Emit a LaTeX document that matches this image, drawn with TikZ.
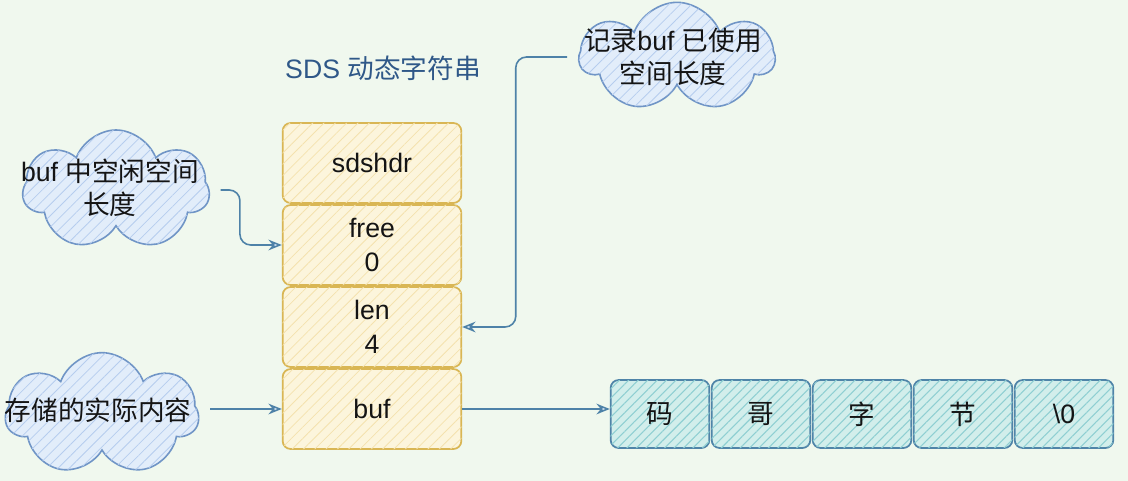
\documentclass[tikz,border=0pt]{standalone}
\usepackage{fontspec}
\setmainfont{Liberation Sans}
\newfontfamily\cjk{Noto Sans CJK SC}
\usetikzlibrary{shapes.symbols}
\usetikzlibrary{patterns.meta}
\usetikzlibrary{arrows.meta}
\usetikzlibrary{calc}
\definecolor{bggreen}{HTML}{F0F8EE}
\definecolor{fieldfill}{HTML}{FCF5DC}
\definecolor{fieldhatch}{HTML}{F4E2AE}
\definecolor{fieldline}{HTML}{D9B654}
\definecolor{charfill}{HTML}{D2EEEB}
\definecolor{charhatch}{HTML}{8FCFD2}
\definecolor{charline}{HTML}{4F84A8}
\definecolor{cloudfill}{HTML}{E2EDFA}
\definecolor{cloudhatch}{HTML}{B6CDEE}
\definecolor{cloudline}{HTML}{7095C6}
\definecolor{linkc}{HTML}{4E82A8}
\definecolor{titleblue}{HTML}{2F5888}
\definecolor{inkc}{HTML}{141414}

\begin{document}
\begin{tikzpicture}[x=0.75pt, y=-0.75pt,
    every node/.style={font=\fontsize{20}{25}\selectfont, align=center, text=inkc},
    field/.style={draw=fieldline, fill=fieldfill, line width=1.3pt, rounded corners=6pt,
        minimum width=134pt, minimum height=60pt,
        postaction={pattern={Lines[angle=45,distance=6pt,line width=0.6pt]}, pattern color=fieldhatch}},
    charbox/.style={draw=charline, fill=charfill, line width=1.3pt, rounded corners=6pt,
        minimum width=74pt, minimum height=51pt,
        postaction={pattern={Lines[angle=45,distance=5pt,line width=0.8pt]}, pattern color=charhatch}},
    note/.style={cloud, cloud puffs=7, cloud puff arc=140, cloud ignores aspect, draw=cloudline, fill=cloudfill, line width=1.2pt,
        postaction={pattern={Lines[angle=45,distance=6pt,line width=0.6pt]}, pattern color=cloudhatch}},
    link/.style={draw=linkc, line width=1.2pt, rounded corners=8pt, shorten <=8pt,
        -{Stealth[length=10pt,width=8pt,open,fill=cloudfill]}}]
            \useasboundingbox (0,0) rectangle (1128,481);
            \fill[bggreen] (0,0) rectangle (1128,481);
            \node (title) at (383,68) [text=titleblue] {SDS {\cjk 动态字符串}};
            \node[field] (sdshdr) at (372,163) {sdshdr};
            \node[field] (free) at (372,245) {free\\0};
            \node[field] (len) at (372,327) {len\\4};
            \node[field] (buf) at (372,409) {buf};
            \foreach \ch [count=\i] in {{\cjk 码},{\cjk 哥},{\cjk 字},{\cjk 节},\textbackslash0}
                \node[charbox] (c\i) at ({660+101*(\i-1)},414) {\ch};
            \node[note, minimum width=140pt, minimum height=90pt] (freeCloud) at (116,190) {};
            \node (freeNote) at (110,188) {buf {\cjk 中空闲空间}\\{\cjk 长度}};
            \node[note, minimum width=146pt, minimum height=82pt] (usedCloud) at (677,57) {};
            \node (usedNote) at (673,57) {{\cjk 记录}buf {\cjk 已使用}\\{\cjk 空间长度}};
            \node[note, minimum width=145pt, minimum height=92pt] (bufCloud) at (102,414) {};
            \node (bufNote) at (98,410) {{\cjk 存储的实际内容}};
            \draw[link] (freeCloud.east) -- ++(30,0) |- (free.west);
            \draw[link] (usedCloud.west) -- ++(-62,0) |- (len.east);
            \draw[link] (buf.west -| bufCloud.east) -- (buf.west);
            \draw[link, shorten <=0pt] (buf.east) -- (buf.east -| c1.west);
        \end{tikzpicture}
\end{document}
